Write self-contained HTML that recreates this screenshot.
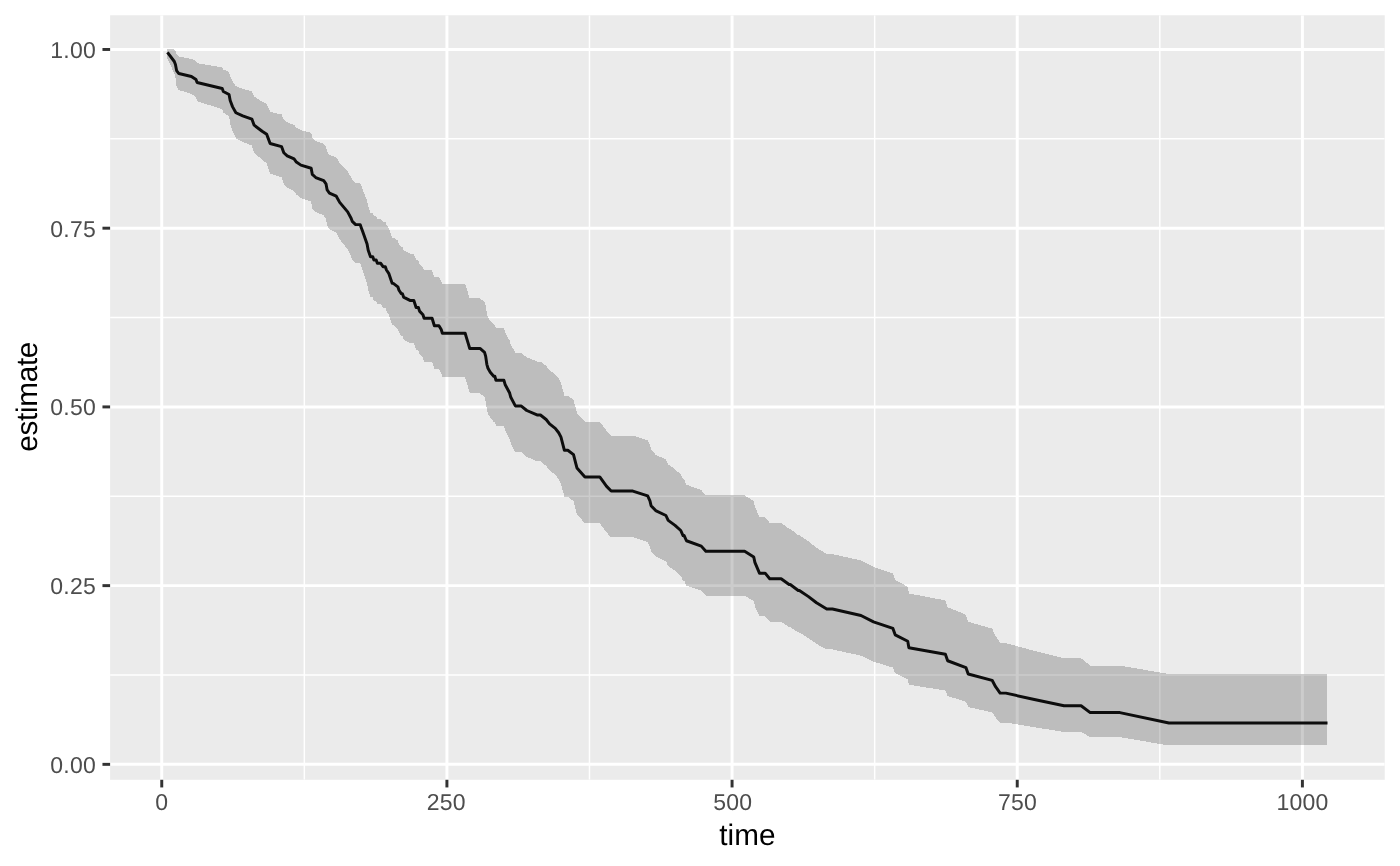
<!DOCTYPE html>
<html lang="en"><head><meta charset="utf-8"><title>estimate vs time</title>
<style>html,body{margin:0;padding:0;background:#fff;}body{width:1400px;height:866px;overflow:hidden;}svg{display:block;will-change:transform;filter:grayscale(1);}text{text-rendering:geometricPrecision;font-family:"Liberation Sans",Arial,Helvetica,sans-serif;}</style></head><body>
<svg width="1400" height="866" viewBox="0 0 1400 866">
<rect x="0" y="0" width="1400" height="866" fill="#ffffff"/>
<rect x="110.1" y="15.28" width="1274.65" height="764.52" fill="#EBEBEB"/>
<defs><clipPath id="pc"><rect x="110.1" y="15.28" width="1274.65" height="764.52"/></clipPath></defs>
<g clip-path="url(#pc)">
<g stroke="#ffffff" stroke-width="1.48" fill="none">
<line x1="110.1" x2="1384.75" y1="674.99" y2="674.99"/>
<line x1="110.1" x2="1384.75" y1="496.27" y2="496.27"/>
<line x1="110.1" x2="1384.75" y1="317.55" y2="317.55"/>
<line x1="110.1" x2="1384.75" y1="138.83" y2="138.83"/>
<line y1="15.28" y2="779.8" x1="304.33" x2="304.33"/>
<line y1="15.28" y2="779.8" x1="589.49" x2="589.49"/>
<line y1="15.28" y2="779.8" x1="874.66" x2="874.66"/>
<line y1="15.28" y2="779.8" x1="1159.82" x2="1159.82"/>
</g>
<g stroke="#ffffff" stroke-width="2.96" fill="none">
<line x1="110.1" x2="1384.75" y1="764.35" y2="764.35"/>
<line x1="110.1" x2="1384.75" y1="585.63" y2="585.63"/>
<line x1="110.1" x2="1384.75" y1="406.91" y2="406.91"/>
<line x1="110.1" x2="1384.75" y1="228.19" y2="228.19"/>
<line x1="110.1" x2="1384.75" y1="49.47" y2="49.47"/>
<line y1="15.28" y2="779.8" x1="161.75" x2="161.75"/>
<line y1="15.28" y2="779.8" x1="446.91" x2="446.91"/>
<line y1="15.28" y2="779.8" x1="732.07" x2="732.07"/>
<line y1="15.28" y2="779.8" x1="1017.24" x2="1017.24"/>
<line y1="15.28" y2="779.8" x1="1302.40" x2="1302.40"/>
</g>
<path d="M167.45,52.48 L174.30,61.51 L175.44,64.52 L176.58,70.54 L178.86,73.55 L191.41,76.55 L195.97,79.56 L197.11,82.56 L222.20,88.54 L223.35,91.55 L229.05,94.55 L230.19,100.56 L231.33,103.59 L232.47,106.63 L235.89,112.72 L242.74,115.88 L251.86,119.10 L254.14,125.19 L262.13,131.29 L266.69,134.34 L267.83,137.39 L270.11,143.51 L281.52,146.60 L283.80,152.76 L287.22,155.84 L294.07,158.95 L296.35,162.03 L300.91,165.13 L311.18,168.25 L312.32,174.41 L315.74,177.52 L323.72,180.66 L326.00,183.76 L327.14,189.94 L329.43,193.04 L336.27,196.18 L339.69,202.39 L347.68,211.86 L351.10,218.20 L352.24,221.36 L355.66,224.62 L359.08,224.62 L360.22,224.62 L361.36,227.89 L362.50,231.08 L363.65,234.27 L365.93,240.69 L367.07,243.91 L368.21,250.31 L369.35,253.52 L370.49,256.74 L372.77,256.74 L373.91,260.03 L376.19,260.03 L377.33,263.30 L379.61,263.30 L380.75,263.30 L383.04,266.65 L385.32,266.65 L386.46,269.99 L388.74,273.35 L391.02,280.03 L392.16,283.37 L393.30,283.37 L397.86,286.82 L399.01,290.21 L401.29,293.62 L402.43,293.62 L403.57,297.06 L410.41,300.56 L413.83,300.56 L414.97,304.05 L416.11,307.53 L417.26,307.53 L418.40,307.53 L419.54,311.12 L422.96,314.71 L424.10,318.28 L429.80,318.28 L432.08,318.28 L434.37,325.73 L435.51,325.73 L438.93,325.73 L441.21,329.56 L442.35,333.26 L449.19,333.26 L457.18,333.26 L465.16,333.26 L466.30,337.12 L467.44,340.90 L468.58,344.67 L469.73,348.49 L472.01,348.49 L476.57,348.49 L479.99,348.49 L484.55,352.46 L485.69,356.39 L486.84,364.31 L487.98,368.28 L490.26,372.25 L493.68,376.22 L494.82,376.22 L495.96,380.28 L499.38,380.28 L503.94,380.28 L505.09,384.48 L507.37,388.73 L509.65,393.03 L510.79,397.29 L515.35,405.90 L521.05,405.90 L526.76,410.51 L537.02,414.97 L540.45,414.97 L546.15,419.48 L549.57,423.89 L555.27,428.34 L558.70,432.75 L560.98,437.15 L562.12,441.53 L564.40,450.28 L567.82,450.28 L573.52,454.69 L575.81,463.54 L576.95,467.96 L584.93,476.94 L590.63,476.94 L597.48,476.94 L599.76,476.94 L603.18,481.64 L606.60,486.36 L611.17,491.08 L622.57,491.08 L632.84,491.08 L647.67,495.93 L649.95,500.82 L651.09,505.72 L655.65,510.61 L665.92,515.50 L668.20,520.40 L675.04,525.40 L680.75,530.51 L683.03,535.56 L684.17,535.56 L686.45,540.74 L701.28,546.12 L705.84,551.33 L744.62,551.33 L753.75,556.95 L754.89,562.35 L759.45,573.16 L765.15,573.16 L769.72,578.74 L781.12,578.74 L789.11,584.52 L790.25,584.52 L798.23,590.46 L799.37,590.46 L808.50,596.63 L816.48,602.78 L826.75,608.95 L832.45,608.95 L860.97,615.49 L873.52,621.94 L892.91,628.43 L895.19,634.84 L907.74,641.30 L908.88,647.72 L945.38,654.33 L947.66,660.76 L965.91,667.52 L968.19,673.97 L992.14,680.32 L995.57,686.73 L1000.13,693.14 L1005.83,693.14 L1034.35,699.50 L1064.00,705.74 L1081.11,705.74 L1090.24,712.59 L1098.22,712.59 L1119.90,712.59 L1168.94,723.00 L1262.48,723.00 L1313.81,723.00 L1327.49,723.00" fill="none" stroke="#000000" stroke-width="2.96" stroke-linejoin="round" stroke-linecap="butt"/>
<path d="M167.45,49.47 L174.30,49.47 L175.44,50.95 L176.58,54.56 L178.86,56.54 L191.41,58.89 L195.97,61.10 L197.11,63.27 L222.20,67.40 L223.35,69.64 L229.05,71.91 L230.19,76.54 L231.33,78.91 L232.47,81.31 L235.89,86.20 L242.74,88.78 L251.86,91.45 L254.14,96.47 L262.13,101.55 L266.69,104.11 L267.83,106.68 L270.11,111.86 L281.52,114.43 L283.80,119.68 L287.22,122.32 L294.07,124.95 L296.35,127.61 L300.91,130.27 L311.18,132.92 L312.32,138.32 L315.74,141.03 L323.72,143.75 L326.00,146.47 L327.14,151.96 L329.43,154.71 L336.27,157.47 L339.69,163.01 L347.68,171.51 L351.10,177.26 L352.24,180.13 L355.66,183.10 L359.08,183.10 L360.22,183.10 L361.36,186.12 L362.50,189.03 L363.65,191.96 L365.93,197.85 L367.07,200.81 L368.21,206.72 L369.35,209.70 L370.49,212.68 L372.77,212.68 L373.91,215.74 L376.19,215.74 L377.33,218.79 L379.61,218.79 L380.75,218.79 L383.04,221.92 L385.32,221.92 L386.46,225.03 L388.74,228.15 L391.02,234.38 L392.16,237.50 L393.30,237.50 L397.86,240.74 L399.01,243.92 L401.29,247.11 L402.43,247.11 L403.57,250.34 L410.41,253.65 L413.83,253.65 L414.97,256.95 L416.11,260.22 L417.26,260.22 L418.40,260.22 L419.54,263.60 L422.96,266.99 L424.10,270.34 L429.80,270.34 L432.08,270.34 L434.37,277.27 L435.51,277.27 L438.93,277.27 L441.21,280.83 L442.35,284.30 L449.19,284.30 L457.18,284.30 L465.16,284.30 L466.30,287.76 L467.44,291.30 L468.58,294.85 L469.73,298.44 L472.01,298.44 L476.57,298.44 L479.99,298.44 L484.55,302.15 L485.69,305.85 L486.84,313.32 L487.98,317.07 L490.26,320.84 L493.68,324.61 L494.82,324.61 L495.96,328.46 L499.38,328.46 L503.94,328.46 L505.09,332.43 L507.37,336.46 L509.65,340.54 L510.79,344.59 L515.35,352.81 L521.05,352.81 L526.76,357.25 L537.02,361.54 L540.45,361.54 L546.15,365.86 L549.57,370.10 L555.27,374.39 L558.70,378.66 L560.98,382.91 L562.12,387.16 L564.40,395.69 L567.82,395.69 L573.52,399.96 L575.81,408.61 L576.95,412.95 L584.93,421.75 L590.63,421.75 L597.48,421.75 L599.76,421.75 L603.18,426.31 L606.60,430.93 L611.17,435.56 L622.57,435.56 L632.84,435.56 L647.67,440.25 L649.95,445.05 L651.09,449.86 L655.65,454.69 L665.92,459.52 L668.20,464.38 L675.04,469.33 L680.75,474.44 L683.03,479.49 L684.17,479.49 L686.45,484.68 L701.28,490.11 L705.84,495.36 L744.62,495.36 L753.75,500.95 L754.89,506.36 L759.45,517.27 L765.15,517.27 L769.72,522.89 L781.12,522.89 L789.11,528.96 L790.25,528.96 L798.23,535.06 L799.37,535.06 L808.50,541.37 L816.48,547.69 L826.75,554.09 L832.45,554.09 L860.97,560.47 L873.52,566.95 L892.91,573.46 L895.19,580.08 L907.74,586.73 L908.88,593.48 L945.38,600.41 L947.66,607.30 L965.91,614.70 L968.19,621.78 L992.14,628.66 L995.57,635.82 L1000.13,643.06 L1005.83,643.06 L1034.35,650.91 L1064.00,658.39 L1081.11,658.39 L1090.24,665.65 L1098.22,665.65 L1119.90,665.65 L1168.94,673.99 L1262.48,673.99 L1313.81,673.99 L1327.49,673.99 L1327.49,745.43 L1313.81,745.43 L1262.48,745.43 L1168.94,745.43 L1119.90,737.21 L1098.22,737.21 L1090.24,737.21 L1081.11,731.93 L1064.00,731.93 L1034.35,727.28 L1005.83,722.54 L1000.13,722.54 L995.57,717.47 L992.14,712.31 L968.19,707.06 L965.91,701.70 L947.66,696.02 L945.38,690.51 L908.88,684.74 L907.74,679.10 L895.19,673.33 L892.91,667.56 L873.52,661.62 L860.97,655.66 L832.45,649.49 L826.75,649.49 L816.48,643.87 L808.50,638.19 L799.37,632.48 L798.23,632.48 L790.25,626.96 L789.11,626.96 L781.12,621.68 L769.72,621.68 L765.15,616.41 L759.45,616.41 L754.89,606.19 L753.75,601.05 L744.62,595.65 L705.84,595.65 L701.28,590.69 L686.45,585.57 L684.17,580.59 L683.03,580.59 L680.75,575.74 L675.04,570.82 L668.20,565.96 L665.92,561.21 L655.65,556.44 L651.09,551.66 L649.95,546.86 L647.67,542.04 L632.84,537.21 L622.57,537.21 L611.17,537.21 L606.60,532.57 L603.18,527.91 L599.76,523.24 L597.48,523.24 L590.63,523.24 L584.93,523.24 L576.95,514.36 L575.81,509.98 L573.52,501.20 L567.82,496.79 L564.40,496.79 L562.12,488.06 L560.98,483.67 L558.70,479.26 L555.27,474.82 L549.57,470.34 L546.15,465.88 L540.45,461.32 L537.02,461.32 L526.76,456.79 L521.05,452.13 L515.35,452.13 L510.79,443.38 L509.65,439.01 L507.37,434.61 L505.09,430.26 L503.94,425.94 L499.38,425.94 L495.96,425.94 L494.82,421.78 L493.68,421.78 L490.26,417.70 L487.98,413.62 L486.84,409.53 L485.69,401.35 L484.55,397.29 L479.99,393.16 L476.57,393.16 L472.01,393.16 L469.73,393.16 L468.58,389.21 L467.44,385.29 L466.30,381.37 L465.16,377.23 L457.18,377.23 L449.19,377.23 L442.35,377.23 L441.21,373.39 L438.93,369.37 L435.51,369.37 L434.37,369.37 L432.08,361.56 L429.80,361.56 L424.10,361.56 L422.96,357.86 L419.54,354.13 L418.40,350.40 L417.26,350.40 L416.11,350.40 L414.97,346.78 L413.83,343.15 L410.41,343.15 L403.57,339.53 L402.43,335.95 L401.29,335.95 L399.01,332.39 L397.86,328.84 L393.30,325.24 L392.16,325.24 L391.02,321.74 L388.74,314.73 L386.46,311.21 L385.32,307.69 L383.04,307.69 L380.75,304.18 L379.61,304.18 L377.33,304.18 L376.19,300.73 L373.91,300.73 L372.77,297.28 L370.49,297.28 L369.35,293.89 L368.21,290.49 L367.07,283.70 L365.93,280.29 L363.65,273.46 L362.50,270.06 L361.36,266.65 L360.22,263.18 L359.08,263.18 L355.66,263.18 L352.24,259.68 L351.10,256.29 L347.68,249.46 L339.69,239.19 L336.27,232.43 L329.43,228.97 L327.14,225.57 L326.00,218.79 L323.72,215.38 L315.74,211.87 L312.32,208.43 L311.18,201.59 L300.91,198.06 L296.35,194.59 L294.07,191.13 L287.22,187.62 L283.80,184.14 L281.52,177.19 L270.11,173.62 L267.83,166.67 L266.69,163.18 L262.13,159.69 L254.14,152.68 L251.86,145.61 L242.74,141.89 L235.89,138.21 L232.47,131.00 L231.33,127.39 L230.19,123.75 L229.05,116.45 L223.35,112.76 L222.20,109.04 L197.11,101.33 L195.97,97.53 L191.41,93.77 L178.86,90.15 L176.58,86.17 L175.44,77.83 L174.30,73.47 L167.45,58.59Z" fill="#333333" fill-opacity="0.25" stroke="none" shape-rendering="crispEdges"/>
</g>
<g stroke="#333333" stroke-width="2.96" fill="none">
<line x1="102.46" x2="110.1" y1="764.35" y2="764.35"/>
<line x1="102.46" x2="110.1" y1="585.63" y2="585.63"/>
<line x1="102.46" x2="110.1" y1="406.91" y2="406.91"/>
<line x1="102.46" x2="110.1" y1="228.19" y2="228.19"/>
<line x1="102.46" x2="110.1" y1="49.47" y2="49.47"/>
<line y1="779.8" y2="787.44" x1="161.75" x2="161.75"/>
<line y1="779.8" y2="787.44" x1="446.91" x2="446.91"/>
<line y1="779.8" y2="787.44" x1="732.07" x2="732.07"/>
<line y1="779.8" y2="787.44" x1="1017.24" x2="1017.24"/>
<line y1="779.8" y2="787.44" x1="1302.40" x2="1302.40"/>
</g>
<g fill="#4D4D4D" font-size="23px" letter-spacing="0.2">
<text x="95.9" y="772.7" text-anchor="end">0.00</text>
<text x="95.9" y="593.7" text-anchor="end">0.25</text>
<text x="95.9" y="414.7" text-anchor="end">0.50</text>
<text x="95.9" y="236.7" text-anchor="end">0.75</text>
<text x="95.9" y="57.7" text-anchor="end">1.00</text>
<text x="161.75" y="810.15" text-anchor="middle">0</text>
<text x="446.26" y="810.15" text-anchor="middle">250</text>
<text x="732.77" y="810.15" text-anchor="middle">500</text>
<text x="1017.49" y="810.15" text-anchor="middle">750</text>
<text x="1302.40" y="810.15" text-anchor="middle">1000</text>
</g>
<g fill="#000000" font-size="29.7px">
<text x="747.42" y="844.9" text-anchor="middle">time</text>
<text transform="translate(36.9,396.84) rotate(-90)" text-anchor="middle" letter-spacing="-0.3">estimate</text>
</g>
</svg></body></html>
